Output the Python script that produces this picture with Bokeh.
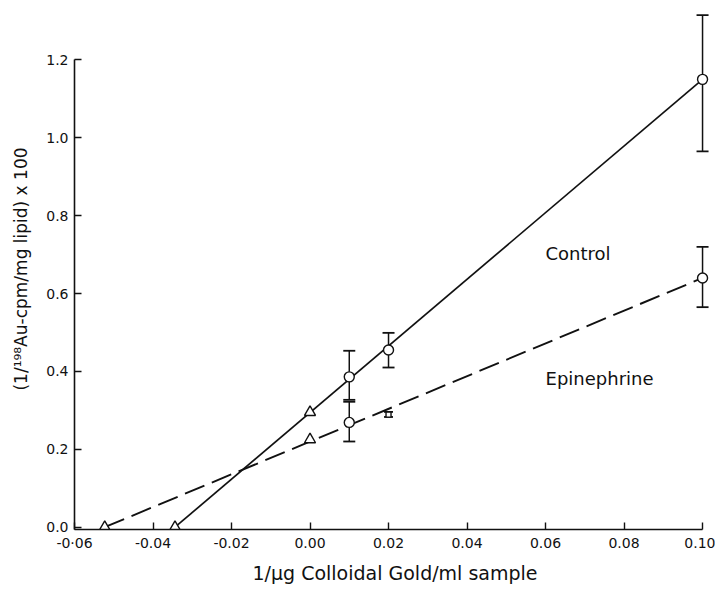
from bokeh.plotting import figure
from bokeh.models import Range1d, Whisker, ColumnDataSource, FixedTicker, TeeHead
from bokeh.embed import file_html
from bokeh.resources import INLINE
from bokeh.core.properties import value

# ---- data ----
x_ticks = [-0.06, -0.04, -0.02, 0.0, 0.02, 0.04, 0.06, 0.08, 0.10]
x_tick_labels = ["-0·06", "-0.04", "-0.02", "0.00", "0.02", "0.04", "0.06", "0.08", "0.10"]
y_ticks = [0.0, 0.2, 0.4, 0.6, 0.8, 1.0, 1.2]
y_tick_labels = ["0.0", "0.2", "0.4", "0.6", "0.8", "1.0", "1.2"]

# Control (solid line, open circles)
ctrl_x = [0.01, 0.02, 0.10]
ctrl_y = [0.386, 0.455, 1.15]
ctrl_lo = [0.327, 0.41, 0.965]
ctrl_hi = [0.453, 0.499, 1.315]
ctrl_tri_x = [-0.0344, 0.0]
ctrl_tri_y = [0.0, 0.295]
ctrl_fit_x = [-0.0344, 0.10]
ctrl_fit_y = [0.0, 1.15]

# Epinephrine (dashed line, open circles)
epi_x = [0.01, 0.10]
epi_y = [0.269, 0.64]
epi_lo = [0.22, 0.565]
epi_hi = [0.322, 0.72]
epi_sq_x = [0.02]
epi_sq_y = [0.289]
epi_sq_lo = [0.283]
epi_sq_hi = [0.296]
epi_tri_x = [-0.0523, 0.0]
epi_tri_y = [0.0, 0.225]
epi_fit_x = [-0.0523, 0.10]
epi_fit_y = [0.0, 0.64]

labels_text = ["Control", "Epinephrine"]
labels_x = [0.060, 0.060]
labels_y = [0.703, 0.381]

FONT = "DejaVu Sans"
INK = "#111111"

y_start = -0.006
p = figure(width=715, height=586, output_backend="svg", toolbar_location=None,
           x_range=Range1d(-0.06, 0.1033), y_range=Range1d(y_start, 1.332),
           min_border_left=74, min_border_right=0, min_border_top=8, min_border_bottom=55)
p.outline_line_color = None
p.xgrid.visible = False
p.ygrid.visible = False
p.background_fill_color = "white"

# lines
p.line(ctrl_fit_x, ctrl_fit_y, line_color=INK, line_width=1.7)
p.line(epi_fit_x, epi_fit_y, line_color=INK, line_width=1.9, line_dash="21 8")

# error bars
def add_err(xs, lo, hi, size):
    src = ColumnDataSource(dict(x=xs, lo=lo, hi=hi))
    w = Whisker(source=src, base="x", lower="lo", upper="hi", dimension="height",
                line_color=INK, line_width=1.5,
                upper_head=TeeHead(size=size, line_width=1.8, line_color=INK),
                lower_head=TeeHead(size=size, line_width=1.8, line_color=INK))
    p.add_layout(w)

add_err(ctrl_x, ctrl_lo, ctrl_hi, 12)
add_err(epi_x, epi_lo, epi_hi, 12)
add_err(epi_sq_x, epi_sq_lo, epi_sq_hi, 9)

# markers
p.scatter(ctrl_x, ctrl_y, marker="circle", size=10, fill_color="white", line_color=INK, line_width=1.4)
p.scatter(epi_x, epi_y, marker="circle", size=10, fill_color="white", line_color=INK, line_width=1.4)
p.scatter(epi_sq_x, epi_sq_y, marker="square", size=5, fill_color="white", line_color=INK, line_width=1.4)
p.scatter(ctrl_tri_x, ctrl_tri_y, marker="triangle", size=11, fill_color="white", line_color=INK, line_width=1.4)
p.scatter(epi_tri_x, epi_tri_y, marker="triangle", size=11, fill_color="white", line_color=INK, line_width=1.4)

# series labels
p.text(labels_x, labels_y, text=labels_text, text_font=value(FONT), text_font_size="18px",
       text_baseline="middle", text_align="left", text_color=INK)

# axes
p.xaxis.ticker = FixedTicker(ticks=x_ticks)
p.yaxis.ticker = FixedTicker(ticks=y_ticks)
p.xaxis.major_label_overrides = dict(zip(x_ticks, x_tick_labels))
p.yaxis.major_label_overrides = dict(zip(y_ticks, y_tick_labels))
p.xaxis.bounds = (-0.06, 0.10)
p.yaxis.bounds = (y_start, 1.2)
for ax in (p.xaxis, p.yaxis):
    ax.axis_line_color = INK
    ax.axis_line_width = 1.6
    ax.major_tick_line_color = INK
    ax.major_tick_line_width = 1.4
    ax.major_tick_in = 7
    ax.major_tick_out = 0
    ax.minor_tick_line_color = None
    ax.major_label_text_font = FONT
    ax.major_label_text_font_size = "14px"
    ax.major_label_text_color = INK
    ax.axis_label_text_font = FONT
    ax.axis_label_text_font_style = "normal"
    ax.axis_label_text_color = INK

p.xaxis.axis_label = "1/μg Colloidal Gold/ml sample"
p.yaxis.axis_label = "(1/¹⁹⁸Au-cpm/mg lipid) x 100"
p.xaxis.axis_label_text_font_size = "19px"
p.yaxis.axis_label_text_font_size = "17px"
p.xaxis.major_label_standoff = 5
p.yaxis.major_label_standoff = 6
p.xaxis.axis_label_standoff = 8
p.yaxis.axis_label_standoff = 12

open("out.html", "w").write(file_html(p, INLINE))
